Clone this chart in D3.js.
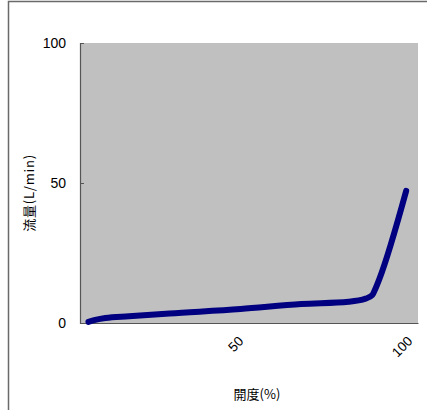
<!DOCTYPE html>
<html>
<head>
<meta charset="utf-8">
<script src="https://cdn.jsdelivr.net/npm/d3@7"></script>
<style>
  html, body { margin: 0; padding: 0; background: #fff; }
  svg { display: block; }
  text { font-family: "Liberation Sans", Arial, sans-serif; fill: #000; }
</style>
</head>
<body>
<svg id="chart" width="427" height="410"></svg>
<script>
// Data
const opening = [3, 5, 8, 15, 27, 48, 66, 80, 85, 87, 88, 89, 97];
const flow    = [0.4, 1.1, 1.8, 2.4, 3.4, 5.0, 6.8, 7.6, 8.7, 10.0, 12.5, 15.5, 47.2];
const xTicks = [50, 100];
const yTicks = [0, 50, 100];
const xTitle = "開度(%)";
const yTitle = "流量(L/min)";

const svg = d3.select("#chart");
const plot = { left: 80, right: 418, top: 43, bottom: 323 };

// outer chart frame (extends past window bottom/right like the reference)
svg.append("rect")
  .attr("x", 8.5).attr("y", 1.5)
  .attr("width", 430).attr("height", 420)
  .attr("fill", "none").attr("stroke", "#6a6a6a").attr("stroke-width", 1.5);

const x = d3.scaleLinear().domain([0.5, 100.5]).range([plot.left, plot.right]);
const y = d3.scaleLinear().domain([0, 100]).range([plot.bottom, plot.top]);

// plot background
svg.append("rect")
  .attr("x", plot.left).attr("y", plot.top)
  .attr("width", plot.right - plot.left).attr("height", plot.bottom - plot.top)
  .attr("fill", "#c0c0c0");

// y axis
const yAxis = svg.append("g")
  .attr("transform", `translate(${plot.left},0)`)
  .call(d3.axisRight(y).tickValues(yTicks).tickSize(4).tickFormat(""));
yAxis.select(".domain").attr("stroke", "#555").attr("stroke-width", 1.2);
yAxis.selectAll(".tick line").attr("stroke", "#555");
svg.append("g").selectAll("text").data(yTicks).join("text")
  .attr("x", plot.left - 14)
  .attr("y", d => y(d))
  .attr("dy", "0.36em")
  .attr("text-anchor", "end")
  .attr("font-size", 14)
  .text(d => d);

// x axis
const xAxis = svg.append("g")
  .attr("transform", `translate(0,${plot.bottom})`)
  .call(d3.axisBottom(x).tickValues(xTicks).tickSize(0).tickFormat(""));
xAxis.select(".domain").attr("stroke", "#555").attr("stroke-width", 1.2);
svg.append("g").selectAll("text").data(xTicks).join("text")
  .attr("text-anchor", "end")
  .attr("font-size", 13.5)
  .attr("transform", d => `translate(${x(d) - 3},${plot.bottom + 19}) rotate(-45)`)
  .text(d => d);

// line
const line = d3.line()
  .x((d, i) => x(opening[i]))
  .y(d => y(d))
  .curve(d3.curveMonotoneX);
svg.append("path")
  .datum(flow)
  .attr("d", line)
  .attr("fill", "none")
  .attr("stroke", "#000080")
  .attr("stroke-width", 6)
  .attr("stroke-linecap", "round")
  .attr("stroke-linejoin", "round");

// titles
svg.append("text")
  .attr("x", 257).attr("y", 399)
  .attr("text-anchor", "middle")
  .attr("font-size", 13)
  .style("font-family", "'Noto Sans CJK JP', sans-serif")
  .text(xTitle);
svg.append("text")
  .attr("transform", "translate(34,193) rotate(-90)")
  .attr("text-anchor", "middle")
  .attr("font-size", 13)
  .attr("letter-spacing", 0.8)
  .style("font-family", "'Noto Sans CJK JP', sans-serif")
  .text(yTitle);
</script>
</body>
</html>
